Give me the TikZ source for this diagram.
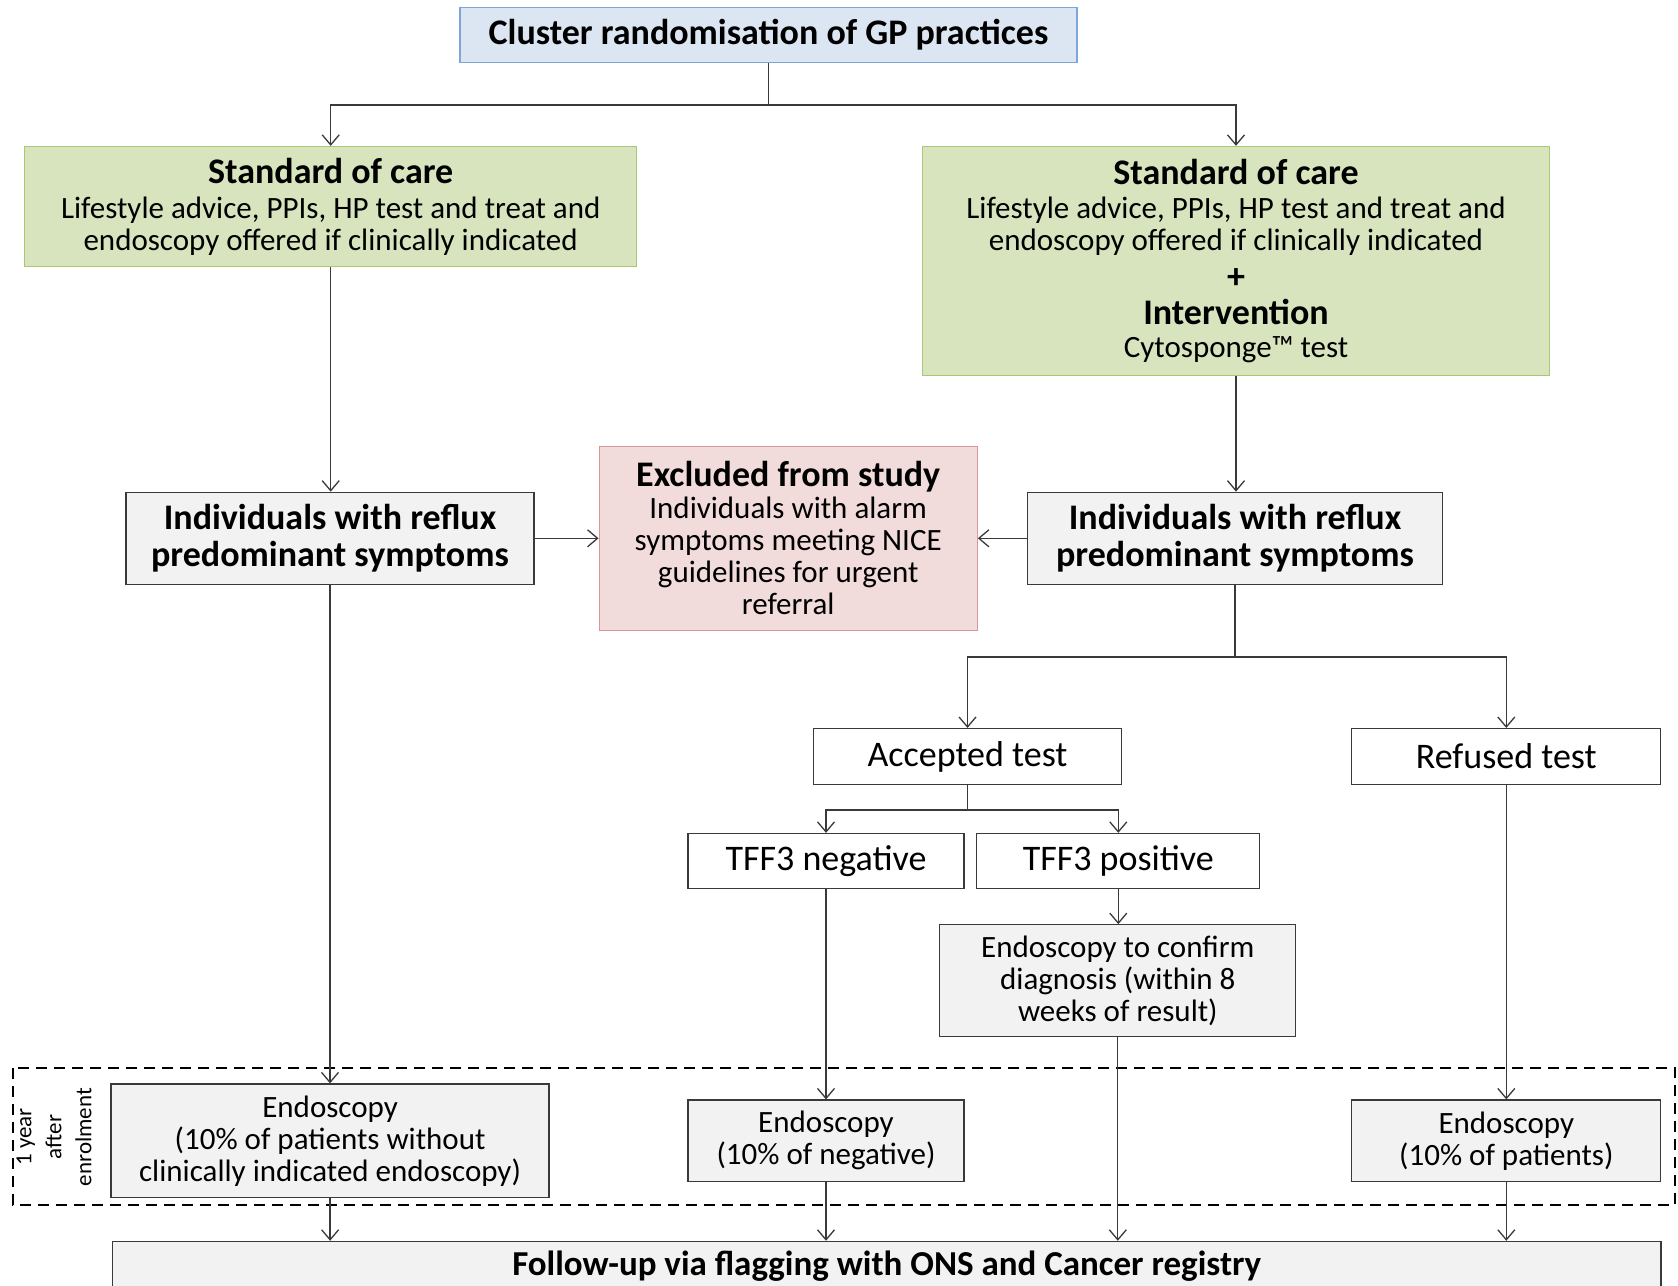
\documentclass[tikz,border=0pt]{standalone}
\usepackage{fontspec}
\setmainfont{Carlito}
\usetikzlibrary{arrows.meta}
\definecolor{blueF}{HTML}{DCE6F2}
\definecolor{blueD}{HTML}{7EA6D8}
\definecolor{greenF}{HTML}{D7E4BD}
\definecolor{greenD}{HTML}{A9C774}
\definecolor{redF}{HTML}{F2DCDB}
\definecolor{redD}{HTML}{D99694}
\definecolor{grayF}{HTML}{F2F2F2}
\definecolor{lineC}{HTML}{3A3A3A}
\newcommand\FtHead{\fontsize{36}{37}\selectfont\bfseries}
\newcommand\FtBody{\fontsize{31}{32}\selectfont}
\newcommand\FtMid{\fontsize{36}{38}\selectfont}
\newcommand\FtRot{\fontsize{23}{30}\selectfont}
\begin{document}
\begin{tikzpicture}[x=1pt,y=-1pt,
  box/.style={draw=lineC, line width=1.3pt, inner sep=0pt, align=center, text=black},
  arr/.style={-{Straight Barb[length=10pt,width=17pt]}, line width=1.3pt, draw=lineC},
  ln/.style={line width=1.3pt, draw=lineC},
  graybox/.style={box, fill=grayF},
  whitebox/.style={box, fill=white, font=\FtMid},
  greenbox/.style={box, fill=greenF, draw=greenD, font=\FtBody},
  dashbox/.style={draw=black, line width=2.6pt, dash pattern=on 11pt off 7pt}]
\useasboundingbox (0,0) rectangle (1678,1285);
\fill[white] (0,0) rectangle (1678,1285);

% dashed time window
\draw[dashbox] (12.8,1068) rectangle (1674.9,1205);
\node[rotate=90, align=center, font=\FtRot, inner sep=0pt] (yr) at (54,1137) {1 year\\after\\enrolment};

% nodes
\node[box, fill=blueF, draw=blueD, minimum width=617pt, minimum height=55pt, font=\FtHead] (top) at (768.5,34.7) {Cluster randomisation of GP practices};

\node[greenbox, minimum width=612pt, minimum height=120pt] (g1) at (330.7,206.5)
  {{\FtHead Standard of care}\\[3pt]Lifestyle advice, PPIs, HP test and treat and\\endoscopy offered if clinically indicated};
\node[greenbox, minimum width=627pt, minimum height=229pt] (g2) at (1236,261)
  {{\FtHead Standard of care}\\[2pt]Lifestyle advice, PPIs, HP test and treat and\\endoscopy offered if clinically indicated\\[6pt]{\FtHead +}\\[4pt]{\FtHead Intervention}\\[1pt]Cytosponge\texttrademark{} test};

\node[graybox, minimum width=408pt, minimum height=92pt, font=\FtHead] (r1) at (330,538.3) {Individuals with reflux\\predominant symptoms};
\node[graybox, minimum width=415pt, minimum height=92pt, font=\FtHead] (r2) at (1235,538.3) {Individuals with reflux\\predominant symptoms};
\node[box, fill=redF, draw=redD, minimum width=378pt, minimum height=184pt, font=\FtBody] (ex) at (788.2,538.3)
  {{\FtHead Excluded from study}\\Individuals with alarm\\symptoms meeting NICE\\guidelines for urgent\\referral};

\node[whitebox, minimum width=308pt, minimum height=56pt] (acc) at (967.5,756.6) {Accepted test};
\node[whitebox, minimum width=309pt, minimum height=56pt] (ref) at (1506.3,756.6) {Refused test};
\node[whitebox, minimum width=276pt, minimum height=55pt] (neg) at (826,861) {TFF3 negative};
\node[whitebox, minimum width=283pt, minimum height=55pt] (pos) at (1118.3,861) {TFF3 positive};
\node[graybox, minimum width=356pt, minimum height=112pt, font=\FtBody] (conf) at (1117.8,980.8) {Endoscopy to confirm\\diagnosis (within 8\\weeks of result)};

\node[graybox, minimum width=438pt, minimum height=113.6pt, font=\FtBody] (e1) at (330.1,1140.8) {Endoscopy\\(10\% of patients without\\clinically indicated endoscopy)};
\node[graybox, minimum width=276pt, minimum height=81.5pt, font=\FtBody] (e2) at (826,1140.8) {Endoscopy\\(10\% of negative)};
\node[graybox, minimum width=309pt, minimum height=81.5pt, font=\FtBody] (e3) at (1506.3,1140.8) {Endoscopy\\(10\% of patients)};

\node[graybox, minimum width=1548.6pt, minimum height=50pt, font=\fontsize{35}{37}\selectfont\bfseries] (fu) at (886.7,1266.4) {Follow-up via flagging with ONS and Cancer registry};

% connectors
\coordinate (s1) at (768.5,105);
\coordinate (s2) at (1235,657);
\coordinate (s3) at (967.5,810);
\draw[ln] (top.south) -- (s1);
\draw[arr] (s1) -| (g1.north);
\draw[arr] (s1) -| (g2.north);
\draw[arr] (g1.south) -- (g1.south |- r1.north);
\draw[arr] (g2.south) -- (g2.south |- r2.north);
\draw[arr] (r1.east) -- (ex.west);
\draw[arr] (r2.west) -- (ex.east);
\draw[ln] (r2.south) -- (s2);
\draw[arr] (s2) -| (acc.north);
\draw[arr] (s2) -| (ref.north);
\draw[ln] (acc.south) -- (s3);
\draw[arr] (s3) -| (neg.north);
\draw[arr] (s3) -| (pos.north);
\draw[arr] (pos.south) -- (pos.south |- conf.north);
\draw[arr] (r1.south) -- (r1.south |- e1.north);
\draw[arr] (neg.south) -- (neg.south |- e2.north);
\draw[arr] (ref.south) -- (ref.south |- e3.north);
\draw[arr] (e1.south) -- (e1.south |- fu.north);
\draw[arr] (e2.south) -- (e2.south |- fu.north);
\draw[arr] (conf.south) -- (conf.south |- fu.north);
\draw[arr] (e3.south) -- (e3.south |- fu.north);
\end{tikzpicture}
\end{document}
